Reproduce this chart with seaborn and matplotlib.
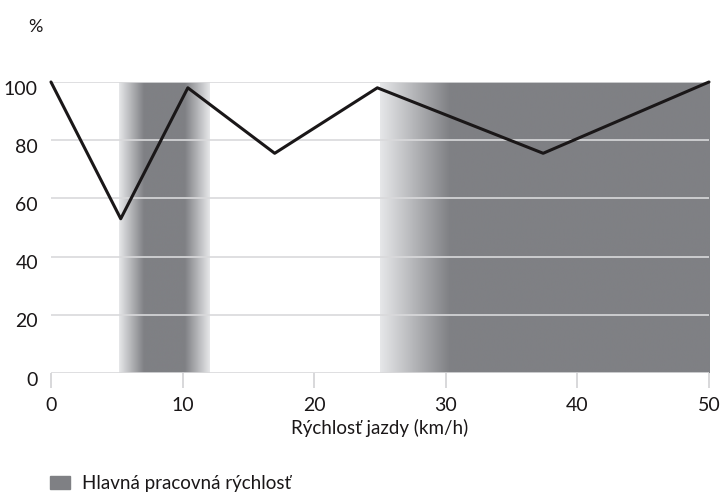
import numpy as np
import pandas as pd
import matplotlib
matplotlib.use("Agg")
import matplotlib.pyplot as plt
import matplotlib.transforms as mtransforms
from matplotlib.colors import LinearSegmentedColormap
from matplotlib.patches import Patch
import seaborn as sns

# Data
speed = [0, 5.3, 10.4, 17.0, 24.8, 37.4, 50]
efficiency = [100, 53, 98, 75.5, 98, 75.5, 100]
x_ticks = [0, 10, 20, 30, 40, 50]
y_ticks = [0, 20, 40, 60, 80, 100]
# main working speed zones: (fade start, solid start, solid end, fade end)
zones = [(5.2, 7.1, 10.2, 12.1), (25.0, 30.3, 50.0, 50.0)]

sns.set_theme(style="white")
plt.rcParams['font.family'] = ['Lato', 'DejaVu Sans']

fig = plt.figure(figsize=(7.23, 4.93), dpi=100)
ax = fig.add_axes([0.0705, 0.2434, 0.9101, 0.5903])

band_dark = "#7f8084"
band_light = "#e6e7e9"
cmap = LinearSegmentedColormap.from_list("band", [band_light, band_dark])

for a, b, c, d in zones:
    xs = np.linspace(a, d, 400)
    prof = np.interp(xs, [a, b, c, d], [0, 1, 1, 0 if d > c else 1])
    ax.imshow(prof[np.newaxis, :], cmap=cmap, vmin=0, vmax=1, aspect="auto",
              extent=[a, d, 0, 100], interpolation="bilinear", zorder=1)

for yv in y_ticks:
    ax.axhline(yv, color="#d9d9db", lw=1.2, zorder=2)

df = pd.DataFrame({"speed": speed, "eff": efficiency})
sns.lineplot(data=df, x="speed", y="eff", color="#1a1718", lw=2.2, ax=ax,
             zorder=3, clip_on=False)

ax.set_xlim(0, 50)
ax.set_ylim(0, 100)
ax.set_xticks(x_ticks)
ax.set_yticks(y_ticks)
ax.tick_params(axis="x", length=10.8, width=1.3, color="#d6d6d8", labelsize=14,
               pad=6.3, labelcolor="#1a1718", bottom=True)
ax.tick_params(axis="y", length=0, labelsize=14, pad=9.4, labelcolor="#1a1718")
# y labels sit slightly below their gridlines in the reference
shift = mtransforms.ScaledTranslation(0, -4 / 72, fig.dpi_scale_trans)
for lab in ax.get_yticklabels():
    lab.set_transform(lab.get_transform() + shift)
for s in ["top", "right", "left", "bottom"]:
    ax.spines[s].set_visible(False)
ax.set_xlabel("Rýchlosť jazdy (km/h)", fontsize=13.5, color="#1a1718", labelpad=3.6)
ax.set_ylabel("")

fig.text(0.039, 0.935, "%", fontsize=13, color="#1a1718")

fig.legend(handles=[Patch(color=band_dark, label="Hlavná pracovná rýchlosť")],
           loc="center left", bbox_to_anchor=(0.069, 0.02), frameon=False,
           borderaxespad=0, borderpad=0,
           fontsize=13.5, handlelength=1.07, handleheight=0.7, handletextpad=0.64,
           labelcolor="#1a1718")

fig.savefig("out.png", dpi=100)
